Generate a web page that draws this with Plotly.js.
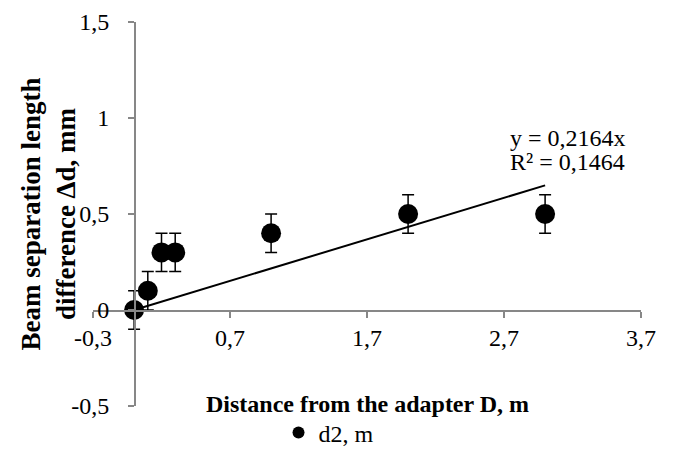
<!DOCTYPE html>
<html>
<head>
<meta charset="utf-8">
<script src="https://cdn.plot.ly/plotly-3.0.1.min.js"></script>
<style>html,body{margin:0;padding:0;background:#fff;}#chart{width:676px;height:450px;}</style>
</head>
<body>
<div id="chart"></div>
<script>
// Data
const seriesName = "d2, m";
const distanceD = [0, 0.1, 0.2, 0.3, 1, 2, 3];
const deltaD = [0, 0.1, 0.3, 0.3, 0.4, 0.5, 0.5];
const errorD = [0.1, 0.1, 0.1, 0.1, 0.1, 0.1, 0.1];
const trendSlope = 0.2164;
const trendR2 = 0.1464;
const trendX = [0, 3];
const xTickVals = [-0.3, 0.7, 1.7, 2.7, 3.7];
const xTickText = ["-0,3", "0,7", "1,7", "2,7", "3,7"];
const yTickVals = [-0.5, 0, 0.5, 1, 1.5];
const yTickText = ["-0,5", "0", "0,5", "1", "1,5"];
const xTitle = "Distance from the adapter D, m";
const yTitle = "Beam separation length<br>difference Δd, mm";

const fmt = v => v.toFixed(4).replace('.', ',');
const trendY = trendX.map(x => trendSlope * x);

const serif = "Liberation Serif, Times New Roman, serif";
const axisColor = "#878787";

const traces = [
  {
    x: trendX, y: trendY, type: 'scatter', mode: 'lines',
    line: {color: '#000', width: 2}, showlegend: false, hoverinfo: 'skip'
  },
  {
    x: distanceD, y: deltaD, type: 'scatter', mode: 'markers', name: seriesName,
    marker: {color: '#000', size: 20, symbol: 'circle'},
    error_y: {type: 'data', array: errorD, visible: true, color: '#000', thickness: 1.5, width: 6}
  }
];

const layout = {
  width: 676, height: 450,
  margin: {l: 93, r: 35, t: 22, b: 44},
  paper_bgcolor: '#fff', plot_bgcolor: '#fff',
  font: {family: serif, size: 24, color: '#000'},
  separators: ',.',
  showlegend: true,
  legend: {
    orientation: 'h', xref: 'container', yref: 'container',
    x: 0.412, xanchor: 'left', y: 0.038, yanchor: 'middle',
    font: {family: serif, size: 24, color: '#000'}, itemsizing: 'constant',
    bgcolor: 'rgba(0,0,0,0)', borderwidth: 0
  },
  xaxis: {
    range: [-0.3, 3.7], tickvals: xTickVals, ticktext: xTickText,
    anchor: 'free', position: 0.25, automargin: false,
    showline: true, linecolor: axisColor, linewidth: 1.5,
    ticks: 'outside', ticklen: 6, tickwidth: 1.5, tickcolor: axisColor,
    showgrid: false, zeroline: false,
    tickfont: {family: serif, size: 24, color: '#000'}
  },
  yaxis: {
    range: [-0.5, 1.5], tickvals: yTickVals, ticktext: yTickText,
    anchor: 'free', position: 0.075, automargin: false,
    showline: true, linecolor: axisColor, linewidth: 1.5,
    ticks: 'outside', ticklen: 6, tickwidth: 1.5, tickcolor: axisColor,
    ticklabelstandoff: 14,
    showgrid: false, zeroline: false,
    tickfont: {family: serif, size: 24, color: '#000'}
  },
  annotations: [
    {
      xref: 'paper', yref: 'paper', x: 0.5, y: 0.005, xanchor: 'center', yanchor: 'middle',
      text: '<b>' + xTitle + '</b>', showarrow: false,
      font: {family: serif, size: 24, color: '#000'}
    },
    {
      xref: 'paper', yref: 'paper', x: -0.083, y: 0.5, xanchor: 'center', yanchor: 'middle',
      text: '<b>' + yTitle + '</b>', showarrow: false, textangle: -90,
      font: {family: serif, size: 27, color: '#000'}
    },
    {
      xref: 'paper', yref: 'paper', x: 0.758, y: 0.698, xanchor: 'left', yanchor: 'middle',
      align: 'left', showarrow: false,
      text: 'y = ' + fmt(trendSlope) + 'x',
      font: {family: serif, size: 24, color: '#000'}
    },
    {
      xref: 'paper', yref: 'paper', x: 0.758, y: 0.635, xanchor: 'left', yanchor: 'middle',
      align: 'left', showarrow: false,
      text: 'R² = ' + fmt(trendR2),
      font: {family: serif, size: 24, color: '#000'}
    }
  ]
};

Plotly.newPlot('chart', traces, layout, {displayModeBar: false, staticPlot: true});
</script>
</body>
</html>
